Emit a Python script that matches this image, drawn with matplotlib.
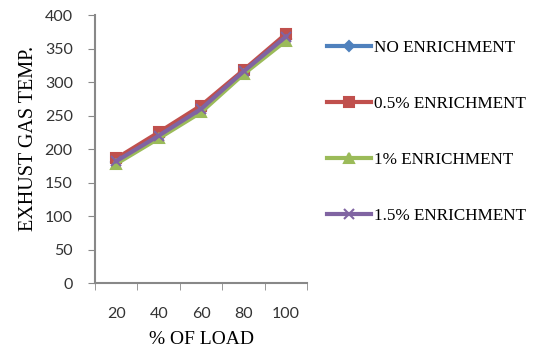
import numpy as np
import matplotlib
matplotlib.use("Agg")
import matplotlib.pyplot as plt

plt.rcParams['font.family'] = ['Liberation Serif', 'DejaVu Serif']

load = ['20', '40', '60', '80', '100']
no_enrich = [180, 218, 258, 315, 365]
enrich_05 = [186, 225, 265, 318, 372]
enrich_1 = [178, 216, 255, 312, 362]
enrich_15 = [182, 220, 260, 316, 368]

series = [
    ('NO ENRICHMENT', no_enrich, '#4F81BD', 'D', 5),
    ('0.5% ENRICHMENT', enrich_05, '#C0504D', 's', 7),
    ('1% ENRICHMENT', enrich_1, '#9BBB59', '^', 7),
    ('1.5% ENRICHMENT', enrich_15, '#8064A2', 'x', 7),
]

fig = plt.figure(figsize=(5.4, 3.52), dpi=100)
ax = fig.add_axes([0.176, 0.196, 0.393, 0.761])

x = np.arange(len(load))
for name, vals, col, mk, ms in series:
    ax.plot(x, vals, color=col, marker=mk, markersize=ms, linewidth=3,
            markeredgewidth=1.5, label=name)

ax.set_xlim(-0.5, len(load) - 0.5)
ax.set_ylim(0, 400)
ax.set_yticks(range(0, 401, 50))
ax.set_xticks(x)
ax.set_xticklabels(load)
ax.set_xticks(np.arange(-0.5, len(load), 1), minor=True)
ax.tick_params(axis='x', which='major', length=0, labelsize=11.5, pad=17)
ax.tick_params(axis='x', which='minor', length=5, color='#888888')
ax.tick_params(axis='y', length=5, color='#888888', labelsize=11.5, pad=11)
for lbl in ax.get_xticklabels() + ax.get_yticklabels():
    lbl.set_family(['Lato', 'DejaVu Sans'])
    lbl.set_color('#333333')

for side in ['top', 'right']:
    ax.spines[side].set_visible(False)
for side in ['left', 'bottom']:
    ax.spines[side].set_color('#888888')
    ax.spines[side].set_linewidth(1.5)

ax.set_xlabel('% OF LOAD', fontsize=14)
ax.set_ylabel('EXHUST GAS TEMP.', fontsize=14.5)
ax.xaxis.set_label_coords(0.5, -0.178)
ax.yaxis.set_label_coords(-0.27, 0.54)

ax.legend(loc='upper left', bbox_to_anchor=(1.094, 0.908), frameon=False,
          fontsize=12.3, labelspacing=2.35, handlelength=2.55, handletextpad=0.2,
          borderaxespad=0, borderpad=0)

fig.savefig('out.png', dpi=100)
